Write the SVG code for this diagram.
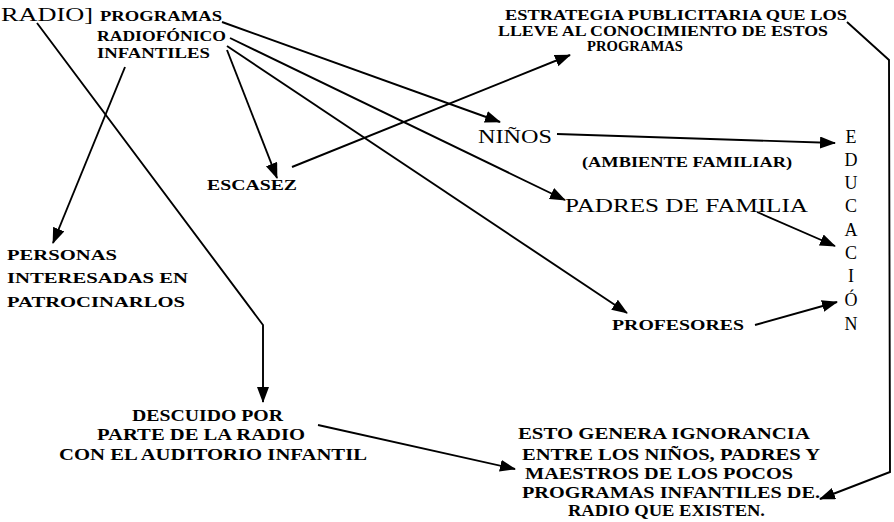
<svg xmlns="http://www.w3.org/2000/svg" width="894" height="522" viewBox="0 0 894 522">
<defs>
<marker id="ah" markerUnits="userSpaceOnUse" markerWidth="17" markerHeight="13" refX="15" refY="6" orient="auto">
<path d="M0,0 L16,6 L0,12 z" fill="#000"/>
</marker>
<style>
text{font-family:"Liberation Serif","Times New Roman",serif;fill:#000}
.b{font-weight:bold;font-size:15px}
.bb{font-weight:bold;font-size:16.5px}
.r{font-size:18px}
.c{stroke:#000;stroke-width:1.9;fill:none}
.a{marker-end:url(#ah)}
</style>
</defs>
<rect width="894" height="522" fill="#fff"/>
<g id="connectors">
<line class="c a" x1="222" y1="22" x2="500" y2="122"/>
<line class="c a" x1="230" y1="38" x2="565" y2="200"/>
<line class="c a" x1="227" y1="46" x2="627" y2="313"/>
<line class="c a" x1="227" y1="50" x2="277" y2="178"/>
<line class="c a" x1="125" y1="67" x2="53" y2="243"/>
<polyline class="c a" points="37,23 263,325 263,402"/>
<line class="c a" x1="292" y1="167" x2="570" y2="55"/>
<line class="c a" x1="557" y1="134" x2="835" y2="143"/>
<line class="c a" x1="757" y1="212" x2="835" y2="246"/>
<line class="c a" x1="755" y1="325" x2="837" y2="302"/>
<line class="c a" x1="318" y1="425" x2="515" y2="469"/>
<polyline class="c a" points="847,22 889,60 890,472 820,499"/>
</g>
<g id="radio"><text class="r" x="1" y="21" textLength="92" lengthAdjust="spacingAndGlyphs">RADIO]</text></g>
<g id="programas">
<text class="b" x="100" y="21" textLength="122" lengthAdjust="spacingAndGlyphs">PROGRAMAS</text>
<text class="b" x="97" y="41" textLength="129" lengthAdjust="spacingAndGlyphs">RADIOFÓNICO</text>
<text class="b" x="97" y="58" textLength="113" lengthAdjust="spacingAndGlyphs">INFANTILES</text>
</g>
<g id="estrategia">
<text class="b" x="505" y="20" textLength="342" lengthAdjust="spacingAndGlyphs">ESTRATEGIA PUBLICITARIA QUE LOS</text>
<text class="b" x="498" y="36" textLength="330" lengthAdjust="spacingAndGlyphs">LLEVE AL CONOCIMIENTO DE ESTOS</text>
<text class="b" x="587" y="51" textLength="96" lengthAdjust="spacingAndGlyphs">PROGRAMAS</text>
</g>
<g id="ninos"><text class="r" x="478" y="143" textLength="74" lengthAdjust="spacingAndGlyphs">NIÑOS</text></g>
<g id="ambiente"><text class="b" x="582" y="167" textLength="210" lengthAdjust="spacingAndGlyphs">(AMBIENTE FAMILIAR)</text></g>
<g id="escasez"><text class="b" x="207" y="190" textLength="90" lengthAdjust="spacingAndGlyphs">ESCASEZ</text></g>
<g id="padres"><text class="r" x="565" y="212" textLength="243" lengthAdjust="spacingAndGlyphs">PADRES DE FAMILIA</text></g>
<g id="personas">
<text class="b" x="7" y="260" textLength="110" lengthAdjust="spacingAndGlyphs">PERSONAS</text>
<text class="b" x="7" y="283" textLength="181" lengthAdjust="spacingAndGlyphs">INTERESADAS EN</text>
<text class="b" x="7" y="307" textLength="178" lengthAdjust="spacingAndGlyphs">PATROCINARLOS</text>
</g>
<g id="profesores"><text class="b" x="612" y="330" textLength="132" lengthAdjust="spacingAndGlyphs">PROFESORES</text></g>
<g id="educacion" text-anchor="middle">
<text class="r" x="851" y="143">E</text>
<text class="r" x="851" y="166">D</text>
<text class="r" x="851" y="189">U</text>
<text class="r" x="851" y="212">C</text>
<text class="r" x="851" y="236">A</text>
<text class="r" x="851" y="259">C</text>
<text class="r" x="851" y="282">I</text>
<text class="r" x="851" y="306">Ó</text>
<text class="r" x="851" y="330">N</text>
</g>
<g id="descuido">
<text class="bb" x="132" y="421" textLength="151" lengthAdjust="spacingAndGlyphs">DESCUIDO POR</text>
<text class="bb" x="97" y="440" textLength="208" lengthAdjust="spacingAndGlyphs">PARTE DE LA RADIO</text>
<text class="bb" x="59" y="460" textLength="308" lengthAdjust="spacingAndGlyphs">CON EL AUDITORIO INFANTIL</text>
</g>
<g id="ignorancia">
<text class="bb" x="518" y="439" textLength="292" lengthAdjust="spacingAndGlyphs">ESTO GENERA IGNORANCIA</text>
<text class="bb" x="522" y="460" textLength="298" lengthAdjust="spacingAndGlyphs">ENTRE LOS NIÑOS, PADRES Y</text>
<text class="bb" x="525" y="479" textLength="268" lengthAdjust="spacingAndGlyphs">MAESTROS DE LOS POCOS</text>
<text class="bb" x="522" y="498" textLength="298" lengthAdjust="spacingAndGlyphs">PROGRAMAS INFANTILES DE.</text>
<text class="bb" x="568" y="516" textLength="197" lengthAdjust="spacingAndGlyphs">RADIO QUE EXISTEN.</text>
</g>
</svg>
